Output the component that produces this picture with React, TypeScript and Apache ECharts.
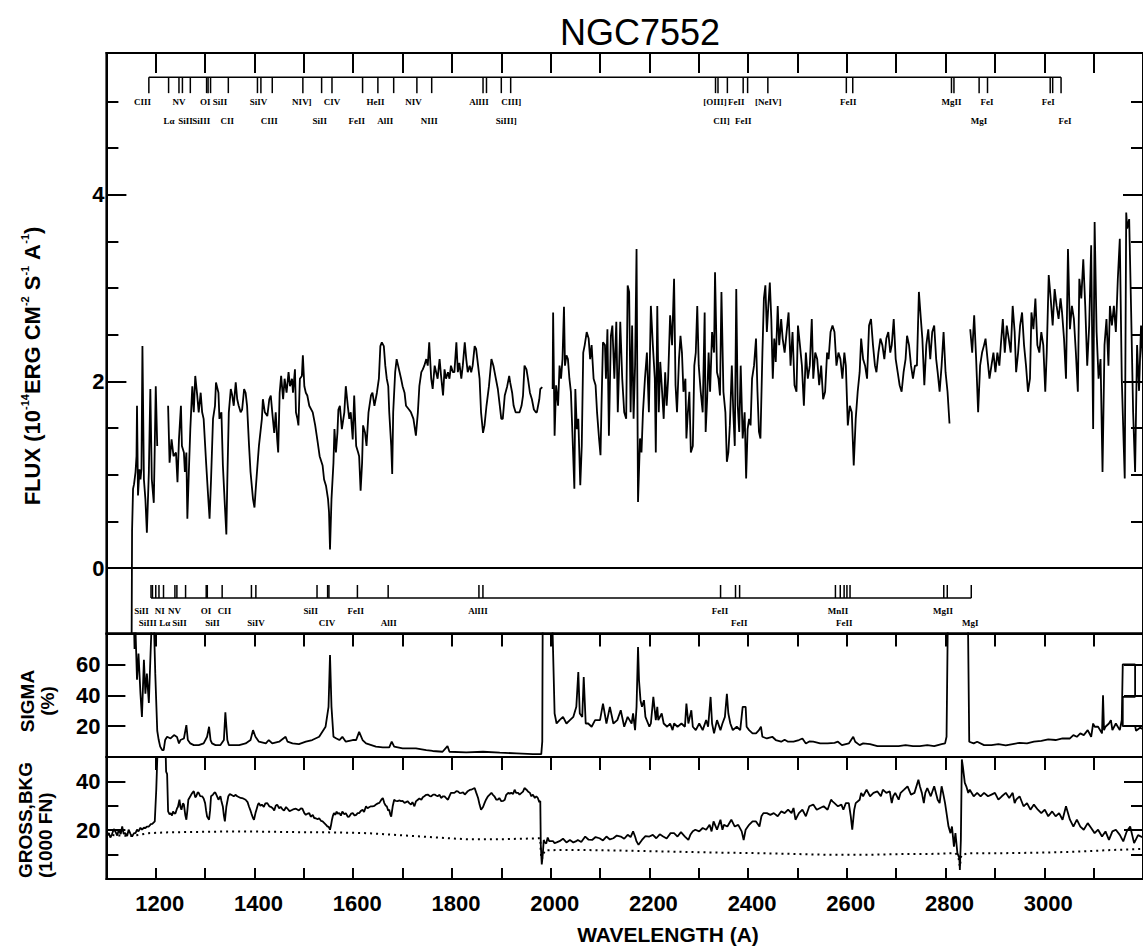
import React, { useEffect, useRef } from "react";
import * as echarts from "echarts";

// ---- wavelength range (Angstrom) ----
const WAVE_MIN = 1100;
const WAVE_MAX = 3200;
const waveLabels = [1200, 1400, 1600, 1800, 2000, 2200, 2400, 2600, 2800, 3000];

// ---- flux panel (1e-14 erg cm-2 s-1 A-1) ----
const FLUX_MIN = -0.7;
const FLUX_MAX = 5.52;
const fluxMajorTicks = [0, 2, 4];
const fluxMinorTicks = [0.5, 1, 1.5, 2.5, 3, 3.5, 4.5, 5];

// SWP camera, blue of Lyman alpha
const fluxShortA: [number, number][] = [
  [1151, -0.9], [1152, 0.4], [1154, 0.85], [1156, 0.9], [1159, 1.03], [1161, 1.2], [1162, 1.74], [1164, 0.78],
  [1167, 1.06], [1169, 0.95], [1171, 1.06], [1173, 2.38], [1176, 0.95], [1179, 0.74], [1182, 0.38], [1186, 1.03],
  [1189, 1.92], [1192, 0.95], [1196, 0.7], [1198, 1.31], [1200, 1.95], [1203, 1.31],
];

// SWP camera, red of Lyman alpha
const fluxShortB: [number, number][] = [
  [1225, 1.74], [1228, 1.13], [1232, 1.38], [1236, 1.2], [1241, 1.24], [1244, 0.92], [1247, 1.38], [1251, 1.74],
  [1253, 1.31], [1257, 1.24], [1259, 1.03], [1262, 1.24], [1264, 0.53], [1267, 1.03], [1270, 1.49], [1274, 1.95],
  [1277, 1.67], [1280, 2.06], [1284, 1.85], [1287, 1.67], [1291, 1.88], [1294, 1.67], [1297, 1.6], [1302, 1.13],
  [1306, 0.78], [1309, 0.53], [1312, 0.95], [1316, 1.6], [1320, 1.74], [1322, 1.99], [1327, 1.88], [1329, 1.6],
  [1333, 1.67], [1336, 1.1], [1340, 0.67], [1343, 0.36], [1345, 0.95], [1348, 1.67], [1352, 1.92], [1355, 1.85],
  [1358, 1.74], [1362, 1.99], [1365, 1.81], [1368, 1.74], [1372, 1.67], [1375, 1.7], [1379, 1.92], [1382, 1.88],
  [1385, 1.74], [1389, 1.31], [1392, 1.03], [1397, 0.74], [1400, 0.65], [1402, 0.81], [1406, 1.1], [1409, 1.31],
  [1415, 1.6], [1417, 1.81], [1421, 1.67], [1426, 1.63], [1430, 1.81], [1433, 1.85], [1436, 1.67], [1440, 1.45],
  [1443, 1.67], [1446, 1.38], [1448, 1.24], [1451, 1.88], [1454, 2.06], [1458, 1.81], [1461, 2.03], [1465, 1.88],
  [1469, 2.1], [1472, 1.95], [1476, 2.03], [1478, 1.88], [1482, 2.13], [1484, 1.67], [1487, 1.6], [1489, 1.53],
  [1492, 2.03], [1496, 2.06], [1498, 2.28], [1501, 1.95], [1504, 1.88], [1507, 1.85], [1511, 1.74], [1518, 1.67],
  [1523, 1.53], [1528, 1.35], [1532, 1.2], [1538, 1.1], [1541, 0.95], [1545, 0.88], [1549, 0.74], [1551, 0.6],
  [1553, 0.2], [1556, 0.74], [1560, 1.13], [1562, 1.49], [1565, 1.24], [1568, 1.45], [1570, 1.7], [1573, 1.74],
  [1577, 1.49], [1582, 1.67], [1585, 1.95], [1589, 1.74], [1592, 1.6], [1595, 1.67], [1599, 1.38], [1602, 1.85],
  [1606, 1.31], [1610, 1.24], [1612, 1.2], [1615, 0.83], [1618, 1.13], [1620, 1.53], [1624, 1.45], [1627, 1.31],
  [1631, 1.67], [1636, 1.85], [1639, 1.88], [1643, 1.74], [1648, 1.88], [1652, 2.03], [1655, 2.38], [1658, 2.42],
  [1662, 2.38], [1665, 2.17], [1668, 2.03], [1671, 1.95], [1673, 1.67], [1677, 1.31], [1679, 1.01], [1681, 1.67],
  [1685, 2.1], [1688, 2.24], [1691, 2.17], [1694, 2.1], [1697, 2.03], [1700, 1.95], [1704, 1.88], [1707, 1.74],
  [1713, 1.7], [1717, 1.67], [1722, 1.6], [1727, 1.42], [1731, 1.67], [1734, 1.95], [1738, 2.1], [1741, 2.13],
  [1744, 2.17], [1748, 2.24], [1751, 2.17], [1754, 2.42], [1758, 2.03], [1761, 1.92], [1765, 2.17], [1768, 2.1],
  [1771, 2.03], [1775, 2.24], [1778, 2.06], [1782, 1.85], [1785, 2.13], [1788, 2.03], [1792, 2.1], [1795, 2.03],
  [1798, 2.17], [1802, 2.1], [1805, 2.1], [1809, 2.42], [1812, 2.1], [1815, 2.2], [1819, 2.03], [1822, 2.17],
  [1826, 2.42], [1829, 2.24], [1832, 2.1], [1836, 2.17], [1839, 2.1], [1842, 2.17], [1846, 2.38], [1849, 2.35],
  [1853, 2.17], [1856, 2.03], [1859, 1.67], [1863, 1.45], [1866, 1.53], [1870, 1.74], [1875, 1.95], [1880, 2.24],
  [1884, 2.17], [1889, 2.03], [1893, 1.92], [1897, 1.74], [1900, 1.6], [1903, 1.6], [1907, 1.85], [1912, 1.95],
  [1916, 2.06], [1918, 1.99], [1922, 1.88], [1925, 1.74], [1929, 1.67], [1934, 1.67], [1937, 1.67], [1941, 1.74],
  [1944, 1.85], [1947, 2.17], [1951, 2.13], [1954, 2.03], [1958, 1.88], [1962, 1.81], [1966, 1.7], [1970, 1.67],
  [1972, 1.67], [1977, 1.81], [1979, 1.92], [1983, 1.94],
];

// LWR camera, blue of Mg II
const fluxLongA: [number, number][] = [
  [2004, 1.92], [2005, 2.74], [2008, 1.42], [2011, 1.96], [2015, 1.74], [2018, 2.17], [2021, 2.03], [2024, 2.24],
  [2027, 2.8], [2029, 2.17], [2032, 2.28], [2035, 2.24], [2038, 2.03], [2041, 1.89], [2044, 1.46], [2048, 0.85],
  [2050, 1.92], [2053, 1.49], [2056, 1.6], [2060, 0.89], [2063, 1.31], [2066, 2.31], [2069, 2.39], [2073, 2.53],
  [2077, 2.46], [2080, 2.24], [2083, 2.39], [2087, 2.03], [2091, 1.96], [2094, 1.67], [2098, 1.39], [2101, 1.21],
  [2103, 1.74], [2106, 2.42], [2110, 2.39], [2112, 2.03], [2115, 2.56], [2118, 1.42], [2122, 2.49], [2125, 2.6],
  [2129, 2.03], [2133, 2.64], [2136, 1.67], [2139, 2.21], [2141, 2.64], [2145, 2.03], [2149, 1.67], [2153, 1.6],
  [2156, 3.03], [2159, 2.96], [2162, 1.67], [2165, 2.6], [2168, 1.6], [2171, 2.17], [2174, 3.42], [2177, 0.71],
  [2181, 1.39], [2184, 1.24], [2187, 1.67], [2191, 2.03], [2195, 2.31], [2199, 1.67], [2203, 2.81], [2207, 2.39],
  [2211, 2.03], [2213, 1.24], [2216, 2.81], [2219, 1.67], [2222, 2.21], [2225, 1.96], [2229, 1.6], [2232, 2.1],
  [2235, 1.74], [2238, 2.03], [2242, 2.71], [2246, 2.39], [2250, 3.1], [2253, 1.96], [2256, 1.67], [2260, 2.24],
  [2263, 2.49], [2266, 2.31], [2269, 1.89], [2273, 2.03], [2275, 1.39], [2278, 1.67], [2281, 1.89], [2284, 1.24],
  [2288, 1.31], [2291, 2.17], [2294, 2.31], [2297, 2.81], [2300, 2.17], [2304, 1.89], [2308, 1.67], [2312, 2.74],
  [2314, 1.46], [2317, 1.81], [2320, 2.31], [2323, 1.89], [2327, 2.53], [2331, 2.31], [2333, 3.17], [2337, 2.1],
  [2340, 2.03], [2343, 1.85], [2346, 2.96], [2350, 1.89], [2354, 1.67], [2357, 1.14], [2360, 1.24], [2363, 1.53],
  [2367, 2.17], [2370, 1.67], [2373, 1.31], [2376, 2.99], [2379, 1.74], [2382, 1.46], [2385, 2.17], [2389, 1.39],
  [2393, 1.67], [2396, 0.96], [2399, 1.49], [2402, 1.6], [2405, 1.53], [2408, 2.03], [2412, 2.17], [2416, 2.46],
  [2419, 1.89], [2422, 1.46], [2425, 1.39], [2429, 2.31], [2432, 2.89], [2435, 3.03], [2438, 2.53], [2441, 2.81],
  [2444, 3.06], [2447, 2.67], [2450, 2.03], [2453, 2.46], [2456, 2.21], [2460, 2.81], [2463, 2.39], [2467, 2.67],
  [2470, 2.46], [2474, 2.31], [2478, 2.53], [2482, 2.74], [2486, 2.17], [2490, 2.53], [2494, 1.96], [2498, 1.89],
  [2501, 2.6], [2505, 2.39], [2509, 2.17], [2513, 1.74], [2517, 2.31], [2521, 2.03], [2525, 2.17], [2529, 2.67],
  [2532, 2.03], [2536, 2.31], [2540, 2.24], [2544, 1.96], [2548, 2.17], [2552, 1.81], [2556, 1.89], [2560, 2.31],
  [2563, 2.24], [2567, 2.53], [2571, 2.6], [2575, 2.53], [2579, 2.17], [2583, 2.31], [2587, 2.24], [2591, 2.03],
  [2595, 2.31], [2598, 2.17], [2602, 1.53], [2606, 1.74], [2610, 1.67], [2614, 1.1], [2618, 1.6], [2622, 1.89],
  [2626, 2.1], [2629, 2.46], [2633, 2.24], [2637, 2.17], [2641, 2.03], [2645, 2.6], [2649, 2.67], [2653, 2.39],
  [2657, 2.17], [2660, 2.1], [2664, 2.31], [2668, 2.46], [2672, 2.39], [2676, 2.24], [2680, 2.46], [2684, 2.53],
  [2688, 2.31], [2691, 2.39], [2695, 2.67], [2699, 2.24], [2703, 2.1], [2707, 1.96], [2711, 1.89], [2715, 2.1],
  [2719, 2.24], [2722, 2.49], [2726, 2.39], [2730, 2.17], [2734, 2.03], [2738, 2.17], [2742, 2.17], [2746, 2.96],
  [2750, 2.67], [2753, 2.46], [2757, 1.96], [2761, 2.39], [2765, 2.56], [2769, 2.24], [2773, 2.53], [2777, 2.6],
  [2781, 2.24], [2784, 2.1], [2788, 1.89], [2792, 2.17], [2796, 2.53], [2800, 2.1], [2804, 1.89], [2808, 1.55],
];

// LWR camera, red of Mg II
const fluxLongB: [number, number][] = [
  [2850, 2.56], [2854, 2.31], [2858, 2.71], [2862, 2.24], [2866, 1.67], [2870, 2.17], [2874, 2.31], [2878, 2.39],
  [2881, 2.46], [2885, 2.24], [2889, 2.03], [2893, 2.17], [2897, 2.31], [2901, 2.1], [2905, 2.31], [2909, 2.17],
  [2912, 2.39], [2916, 2.67], [2920, 2.31], [2924, 2.6], [2928, 2.46], [2932, 2.31], [2936, 2.81], [2940, 2.53],
  [2943, 2.1], [2947, 2.31], [2951, 2.6], [2955, 2.74], [2959, 2.39], [2963, 2.17], [2967, 1.89], [2971, 2.03],
  [2974, 2.74], [2978, 2.56], [2982, 2.89], [2986, 2.39], [2990, 2.31], [2994, 2.53], [2998, 2.39], [3002, 1.89],
  [3005, 2.31], [3009, 3.14], [3013, 2.89], [3017, 2.6], [3021, 2.99], [3025, 2.81], [3029, 2.67], [3033, 2.89],
  [3036, 2.74], [3040, 2.46], [3044, 2.03], [3048, 3.42], [3052, 2.56], [3056, 2.81], [3060, 2.67], [3064, 2.31],
  [3068, 1.89], [3071, 3.1], [3075, 2.89], [3079, 3.31], [3083, 2.81], [3087, 2.17], [3091, 2.6], [3095, 3.46],
  [3099, 1.49], [3102, 3.71], [3106, 2.53], [3110, 2.03], [3114, 2.24], [3118, 1.03], [3122, 2.39], [3126, 2.67],
  [3130, 2.17], [3133, 2.81], [3137, 2.6], [3141, 2.81], [3145, 2.53], [3149, 3.1], [3153, 3.53], [3157, 2.03],
  [3161, 1.31], [3163, 0.96], [3166, 3.81], [3168, 3.64], [3172, 3.74], [3176, 2.74], [3180, 1.67], [3184, 1.03],
  [3188, 2.39], [3192, 1.9], [3196, 2.6], [3200, 2.2],
];

// ---- sigma panel (%) ----
const SIGMA_MAX = 80;
const sigmaTicks = [20, 40, 60];

const sigmaShort: [number, number][] = [
  [1155, 100], [1157, 70], [1159, 82], [1162, 50], [1165, 67], [1169, 41], [1172, 26], [1176, 63], [1179, 41],
  [1182, 54], [1186, 35], [1189, 63], [1192, 90], [1196, 90], [1199, 54], [1203, 17], [1206, 11], [1209, 6.7],
  [1213, 4.5], [1216, 4.5], [1219, 11], [1223, 13.1], [1230, 12], [1237, 14.2], [1243, 13], [1247, 8.8],
  [1250, 11], [1257, 12], [1262, 20.6], [1265, 11], [1270, 8.8], [1277, 7.7], [1287, 7.7], [1297, 8.8],
  [1304, 13.1], [1308, 19.6], [1311, 11], [1314, 8.8], [1321, 7.7], [1331, 7.7], [1338, 11], [1341, 29],
  [1345, 11], [1348, 7.7], [1369, 7.7], [1382, 8.8], [1392, 11], [1397, 17.4], [1402, 13.1], [1409, 9.9],
  [1423, 8.8], [1429, 11], [1436, 8.8], [1450, 9.9], [1463, 13.1], [1467, 9.9], [1477, 8.8], [1490, 8.4],
  [1504, 9.9], [1517, 11], [1531, 13.1], [1544, 19.6], [1550, 32.5], [1553, 66], [1556, 32.5], [1560, 13.1],
  [1566, 12], [1572, 11], [1578, 13.1], [1585, 9.9], [1599, 11], [1606, 11], [1612, 16.3], [1619, 11],
  [1626, 8.8], [1646, 6.7], [1660, 6.2], [1673, 6.2], [1678, 9.9], [1683, 6.7], [1700, 5.6], [1727, 5.6],
  [1748, 4.5], [1761, 3.9], [1781, 3.4], [1791, 7.1], [1795, 3.4], [1829, 3], [1863, 3.4], [1897, 2.8],
  [1931, 2.4], [1964, 1.9], [1981, 1.9], [1983, 10], [1984, 100],
];

const sigmaLongA: [number, number][] = [
  [2002, 100], [2004, 80], [2008, 28.2], [2012, 21.7], [2018, 23.9], [2025, 26], [2032, 21.7], [2039, 23.9],
  [2046, 26], [2052, 32.5], [2056, 55], [2059, 28.2], [2064, 26], [2067, 51.8], [2071, 21.7], [2076, 21.7],
  [2083, 19.6], [2090, 23.9], [2096, 23.9], [2100, 23.9], [2106, 34.6], [2113, 21.7], [2120, 32.5], [2127, 21.7],
  [2135, 23.9], [2142, 30.3], [2149, 19.6], [2156, 26], [2164, 21.7], [2167, 28.2], [2171, 17.4], [2174, 32.5],
  [2177, 71.2], [2179, 49.7], [2182, 36.8], [2185, 32.5], [2189, 36.8], [2192, 26], [2200, 19.6], [2203, 21.7],
  [2208, 38.9], [2213, 23.9], [2216, 32.5], [2218, 23.9], [2225, 28.2], [2229, 21.7], [2236, 19.6], [2242, 21.7],
  [2247, 17.4], [2250, 21.7], [2257, 19.6], [2265, 21.7], [2272, 19.6], [2275, 34.6], [2279, 21.7], [2285, 30.3],
  [2288, 19.6], [2294, 17.4], [2301, 21.7], [2308, 17.4], [2315, 23.9], [2319, 19.6], [2324, 38.9], [2327, 21.7],
  [2331, 15.3], [2337, 23.9], [2344, 17.4], [2348, 21.7], [2353, 26], [2357, 41], [2360, 28.2], [2364, 21.7],
  [2369, 17.4], [2377, 19.6], [2384, 17.4], [2389, 32.5], [2395, 32.5], [2397, 19.6], [2402, 17.4], [2409, 15.3],
  [2416, 15.3], [2422, 17.4], [2426, 19.6], [2429, 13.1], [2438, 12], [2449, 13.1], [2456, 11], [2467, 9.9],
  [2474, 11.2], [2481, 9.9], [2492, 9.9], [2503, 11], [2510, 12], [2517, 8.8], [2524, 10.1], [2532, 9.9],
  [2546, 8.8], [2561, 8.8], [2575, 9.2], [2582, 9.9], [2590, 7.7], [2604, 8.8], [2613, 13.1], [2617, 9.9],
  [2626, 7.7], [2633, 8.8], [2647, 8.4], [2662, 7.1], [2676, 7.1], [2691, 7.1], [2705, 7.1], [2719, 7.7],
  [2734, 7.1], [2748, 7.1], [2763, 7.7], [2777, 7.1], [2792, 8.4], [2799, 8.8], [2802, 13.1], [2805, 100],
];

const sigmaLongB: [number, number][] = [
  [2845, 100], [2848, 9.9], [2857, 8.8], [2864, 9.9], [2878, 7.7], [2893, 7.7], [2907, 8.4], [2922, 7.5],
  [2936, 8.4], [2950, 9.2], [2965, 8.8], [2979, 9.9], [2994, 10.5], [3008, 11.4], [3023, 11], [3037, 12],
  [3052, 12], [3059, 14.2], [3066, 13.1], [3073, 15.3], [3080, 14.2], [3088, 17.4], [3095, 13.1], [3099, 21.7],
  [3102, 19.6], [3109, 19.6], [3117, 15.3], [3119, 40], [3121, 17.4], [3124, 19.6], [3131, 21.7], [3135, 23.9],
  [3138, 17.4], [3145, 21.7], [3153, 17.4], [3157, 24], [3159, 60], [3184, 60], [3184, 39], [3159, 39],
  [3159, 20], [3184, 20], [3186, 17], [3194, 19], [3200, 18],
];

// ---- gross and background counts (1000 FN) ----
const GROSS_MAX = 50;
const grossMajorTicks = [20, 40];
const grossMinorTicks = [10, 30];

const grossShort: [number, number][] = [
  [1100, 17.4], [1105, 18.8], [1108, 17.0], [1111, 18.1], [1115, 20.5], [1118, 19.5], [1122, 17.8], [1125, 20.2],
  [1129, 18.4], [1132, 21.5], [1135, 18.5], [1138, 18.8], [1142, 17.6], [1145, 20.2], [1149, 18.4], [1152, 17.4],
  [1156, 18.8], [1159, 18.8], [1162, 20.2], [1165, 19.5], [1169, 21.0], [1172, 20.2], [1176, 21.0], [1179, 20.9],
  [1182, 21.5], [1186, 21.5], [1190, 22.5], [1193, 22.6], [1198, 23.6], [1201, 36.6], [1203, 49], [1205, 60],
  [1219, 60], [1221, 44], [1223, 43], [1225, 27.7], [1228, 26.5], [1230, 27.0], [1233, 26.0], [1235, 27.7],
  [1238, 26.8], [1240, 27.0], [1243, 28.9], [1245, 29.6], [1248, 32.5], [1250, 29.5], [1252, 28.4], [1255, 31.0],
  [1257, 30.5], [1260, 26.0], [1262, 24.3], [1264, 28.0], [1266, 32.5], [1270, 33.9], [1273, 35.0], [1277, 36.0],
  [1280, 33.5], [1282, 33.9], [1285, 35.5], [1287, 35.3], [1290, 34.0], [1294, 33.9], [1297, 33.0], [1300, 31.1],
  [1302, 28.0], [1304, 25.6], [1308, 24.3], [1310, 28.0], [1312, 33.9], [1316, 34.6], [1319, 35.5], [1321, 35.3],
  [1324, 34.0], [1327, 32.5], [1331, 33.9], [1333, 32.0], [1336, 29.6], [1338, 26.0], [1340, 23.6], [1343, 29.6],
  [1347, 33.9], [1350, 34.8], [1352, 34.6], [1358, 33.9], [1362, 34.5], [1365, 33.9], [1369, 33.5], [1372, 33.2],
  [1377, 33.0], [1382, 32.5], [1386, 31.5], [1389, 29.6], [1392, 28.0], [1394, 26.7], [1397, 25.0], [1399, 24.3],
  [1402, 27.0], [1404, 28.4], [1407, 30.5], [1409, 31.1], [1412, 30.0], [1415, 30.5], [1419, 29.6], [1422, 31.0],
  [1426, 31.1], [1430, 29.8], [1433, 29.6], [1437, 29.0], [1440, 28.1], [1443, 30.0], [1446, 30.5], [1450, 29.0],
  [1453, 29.6], [1457, 28.5], [1460, 28.1], [1464, 29.5], [1467, 28.8], [1471, 27.8], [1474, 28.1], [1478, 28.5],
  [1484, 28.8], [1490, 28.1], [1494, 28.9], [1497, 28.8], [1501, 27.0], [1504, 26.3], [1508, 26.8], [1511, 27.0],
  [1514, 25.5], [1518, 26.3], [1521, 25.0], [1524, 24.9], [1528, 24.5], [1531, 24.9], [1535, 23.8], [1538, 23.6],
  [1542, 22.8], [1545, 22.2], [1548, 21.5], [1550, 21.5], [1553, 20.2], [1555, 22.0], [1557, 24.3], [1559, 26.0],
  [1561, 27.0], [1564, 26.3], [1566, 27.6], [1569, 26.8], [1572, 27.0], [1575, 26.0], [1578, 27.6], [1582, 26.5],
  [1585, 27.0], [1589, 25.5], [1592, 25.6], [1596, 26.8], [1599, 27.0], [1603, 26.0], [1606, 26.3], [1609, 27.0],
  [1612, 27.0], [1616, 28.0], [1619, 28.4], [1622, 27.5], [1626, 29.8], [1629, 29.0], [1633, 29.5], [1636, 29.8],
  [1639, 29.8], [1643, 30.0], [1646, 30.5], [1650, 31.0], [1653, 31.2], [1657, 32.5], [1660, 33.2], [1663, 31.1],
  [1666, 30.0], [1668, 29.8], [1671, 28.0], [1673, 28.4], [1675, 26.5], [1677, 25.6], [1680, 29.8], [1683, 32.5],
  [1686, 32.0], [1690, 31.9], [1693, 32.2], [1697, 31.9], [1700, 32.0], [1704, 31.2], [1707, 31.5], [1710, 31.9],
  [1714, 31.0], [1717, 30.5], [1720, 31.5], [1724, 29.8], [1727, 31.8], [1731, 32.5], [1734, 33.0], [1738, 32.5],
  [1741, 33.5], [1744, 33.9], [1748, 34.5], [1751, 34.6], [1755, 34.0], [1758, 33.9], [1762, 34.6], [1765, 34.6],
  [1768, 34.2], [1771, 33.9], [1775, 34.5], [1778, 33.2], [1782, 33.9], [1785, 33.9], [1789, 33.0], [1792, 32.5],
  [1795, 34.0], [1798, 35.3], [1802, 35.3], [1805, 35.3], [1809, 36.0], [1812, 35.9], [1816, 35.2], [1819, 35.3],
  [1823, 35.5], [1826, 34.6], [1830, 35.5], [1832, 36.0], [1836, 36.5], [1839, 36.6], [1843, 37.0], [1846, 37.3],
  [1849, 35.5], [1853, 33.2], [1856, 30.5], [1859, 28.4], [1863, 29.5], [1866, 31.1], [1869, 32.5], [1873, 33.9],
  [1876, 34.5], [1880, 35.3], [1883, 34.5], [1886, 33.9], [1890, 32.5], [1893, 32.5], [1896, 33.2], [1900, 31.9],
  [1904, 32.0], [1907, 32.5], [1910, 34.5], [1914, 35.3], [1917, 35.0], [1920, 35.3], [1924, 34.9], [1927, 36.6],
  [1930, 35.3], [1934, 35.3], [1937, 34.6], [1941, 35.3], [1944, 35.8], [1947, 37.3], [1951, 36.6], [1954, 35.9],
  [1958, 35.3], [1961, 33.9], [1964, 34.6], [1968, 33.2], [1971, 33.9], [1974, 33.2], [1977, 31.5], [1979, 32.0],
];

const grossLong: [number, number][] = [
  [1980, 14], [1982, 6], [1984, 10], [1986, 16], [1988, 15.0], [1991, 14.5], [1994, 17.0], [1997, 15.5],
  [2001, 15.5], [2005, 15.5], [2008, 14.7], [2012, 15.0], [2018, 15.5], [2025, 16.5], [2032, 15.0], [2039, 16.0],
  [2046, 15.0], [2052, 15.5], [2055, 16.0], [2062, 15.2], [2070, 17.4], [2077, 16.1], [2084, 16.0], [2091, 17.2],
  [2099, 16.7], [2106, 15.8], [2113, 17.4], [2120, 16.2], [2127, 16.7], [2134, 17.8], [2142, 17.4], [2149, 16.5],
  [2156, 18.1], [2162, 17.2], [2167, 19.5], [2171, 17.4], [2174, 15.4], [2178, 14.0], [2185, 16.0], [2192, 17.6],
  [2200, 17.4], [2207, 18.1], [2214, 16.7], [2221, 18.3], [2228, 17.4], [2235, 16.6], [2243, 18.8], [2250, 18.8],
  [2257, 17.4], [2264, 19.2], [2272, 17.4], [2279, 16.0], [2283, 18.1], [2288, 19.6], [2293, 20.2], [2301, 19.5],
  [2308, 20.9], [2315, 20.2], [2322, 22.2], [2326, 19.5], [2330, 23.6], [2337, 20.2], [2344, 24.3], [2348, 20.2],
  [2351, 22.2], [2358, 21.5], [2366, 24.3], [2373, 21.5], [2380, 22.2], [2387, 19.5], [2391, 16.0], [2395, 20.2],
  [2402, 22.2], [2409, 23.6], [2416, 23.6], [2423, 21.5], [2427, 25.7], [2431, 27.0], [2438, 27.0], [2445, 26.3],
  [2452, 27.0], [2460, 25.7], [2467, 27.7], [2474, 27.0], [2481, 28.4], [2488, 27.0], [2492, 29.1], [2496, 24.3],
  [2503, 27.0], [2510, 28.4], [2517, 25.7], [2524, 29.8], [2532, 30.5], [2539, 28.4], [2546, 29.1], [2553, 29.8],
  [2561, 28.4], [2568, 32.5], [2571, 31.8], [2575, 31.1], [2582, 29.8], [2589, 30.5], [2593, 28.4], [2598, 31.1],
  [2604, 31.1], [2608, 25.7], [2611, 20.2], [2615, 28.4], [2618, 31.1], [2626, 32.5], [2629, 35.3], [2633, 33.9],
  [2640, 36.6], [2647, 33.9], [2654, 35.3], [2662, 35.9], [2669, 33.9], [2673, 36.6], [2680, 35.3], [2687, 35.9],
  [2691, 31.1], [2694, 33.9], [2698, 35.3], [2705, 32.5], [2709, 35.3], [2716, 36.6], [2723, 38.0], [2730, 34.6],
  [2737, 35.3], [2745, 40.7], [2748, 38.0], [2752, 35.3], [2756, 31.1], [2759, 35.3], [2763, 37.3], [2770, 33.9],
  [2777, 38.0], [2784, 32.5], [2788, 31.1], [2792, 38.0], [2795, 35.3], [2799, 31.1], [2802, 27.0], [2806, 21.5],
  [2810, 18.8], [2813, 21.5], [2817, 13.3], [2820, 18.8], [2824, 10.6], [2828, 8.5], [2829, 3.7], [2831, 16.0],
  [2833, 49.0], [2835, 46.2], [2839, 39.4], [2842, 38.0], [2846, 35.3], [2849, 36.6], [2857, 33.9], [2864, 35.3],
  [2871, 33.9], [2878, 35.3], [2886, 33.9], [2893, 34.6], [2900, 35.3], [2907, 32.5], [2914, 33.9], [2922, 35.3],
  [2929, 33.2], [2936, 35.3], [2940, 31.1], [2943, 32.5], [2950, 33.9], [2958, 29.8], [2965, 31.1], [2972, 28.4],
  [2979, 30.5], [2987, 28.4], [2994, 27.0], [3001, 28.4], [3008, 25.7], [3016, 27.7], [3023, 25.7], [3030, 27.0],
  [3037, 24.3], [3044, 29.8], [3052, 24.3], [3059, 21.5], [3066, 24.3], [3073, 21.5], [3080, 20.2], [3088, 22.9],
  [3095, 20.9], [3102, 18.8], [3109, 20.2], [3117, 17.4], [3124, 19.5], [3131, 16.0], [3138, 19.5], [3145, 20.2],
  [3153, 18.1], [3160, 15.4], [3167, 19.5], [3174, 21.5], [3182, 14.7], [3190, 18], [3200, 17],
];

const bkgShort: [number, number][] = [
  [1100, 18.1], [1152, 17.6], [1186, 18.8], [1220, 19.1], [1287, 19.3], [1355, 19.5], [1422, 19.4], [1490, 19.2],
  [1558, 19.1], [1626, 18.8], [1693, 18.0], [1761, 17.1], [1829, 16.3], [1897, 16.3], [1964, 16.6], [1979, 16.7],
];

const bkgLong: [number, number][] = [
  [1980, 10.6], [1982, 8], [1984, 9.2], [1988, 11.7], [2018, 11.9], [2055, 11.9], [2127, 11.7], [2200, 11.4],
  [2272, 11.1], [2344, 10.8], [2416, 10.6], [2488, 10.3], [2561, 9.9], [2633, 9.9], [2705, 10.2], [2777, 10.3],
  [2820, 10.6], [2826, 9.2], [2829, 5], [2832, 9.9], [2849, 10.6], [2922, 10.6], [2994, 10.8], [3066, 11.2],
  [3138, 11.9], [3182, 12.2], [3200, 12.3],
];

// ---- line identifications ----
// lines of NGC 7552 itself, at the galaxy's observed wavelengths
const galaxyLineWaves = [
  1186, 1226, 1247, 1254, 1270, 1303, 1306, 1311, 1347, 1406, 1413, 1436, 1498, 1536, 1557, 1619, 1650, 1682,
  1729, 1759, 1863, 1870, 1900, 1919, 2334, 2339, 2358, 2390, 2399, 2440, 2599, 2612, 2812, 2817, 2868, 2885,
  3012, 3017, 3034,
];
const galaxyLineLabels: [string, number, number][] = [
  ["CIII", 1173, 0], ["NV", 1247, 0], ["OI SiII", 1317, 0], ["SiIV", 1408, 0], ["NIV]", 1496, 0],
  ["CIV", 1557, 0], ["HeII", 1645, 0], ["NIV", 1722, 0], ["AlIII", 1855, 0], ["CIII]", 1920, 0],
  ["[OIII]", 2333, 0], ["FeII", 2376, 0], ["[NeIV]", 2441, 0], ["FeII", 2603, 0], ["MgII", 2812, 0],
  ["FeI", 2884, 0], ["FeI", 3008, 0],
  ["Lα", 1227, 1], ["SiII", 1260, 1], ["SiIII", 1292, 1], ["CII", 1345, 1], ["CIII", 1430, 1],
  ["SiII", 1532, 1], ["FeII", 1607, 1], ["AlII", 1665, 1], ["NIII", 1754, 1], ["SiIII]", 1910, 1],
  ["CII]", 2346, 1], ["FeII", 2390, 1], ["MgI", 2868, 1], ["FeI", 3042, 1],
];

// interstellar lines of our own Galaxy, at rest wavelengths
const galacticLineWaves = [
  1190.4, 1193.3, 1200.0, 1206.5, 1215.7, 1238.8, 1242.8, 1260.4, 1302.2, 1304.4, 1334.5, 1393.8, 1402.8,
  1526.7, 1548.2, 1550.8, 1608.5, 1670.8, 1854.7, 1862.8, 2344.2, 2374.5, 2382.8, 2576.9, 2586.7, 2594.5,
  2600.2, 2606.5, 2796.4, 2803.5, 2852.1,
];
const galacticLineLabels: [string, number, number][] = [
  ["SiII", 1171, 0], ["NI", 1208, 0], ["NV", 1238, 0], ["OI", 1302, 0], ["CII", 1339, 0], ["SiII", 1514, 0],
  ["FeII", 1605, 0], ["AlIII", 1853, 0], ["FeII", 2343, 0], ["MnII", 2582, 0], ["MgII", 2795, 0],
  ["SiIII", 1184, 1], ["Lα", 1218, 1], ["SiII", 1248, 1], ["SiII", 1315, 1], ["SiIV", 1403, 1],
  ["CIV", 1547, 1], ["AlII", 1672, 1], ["FeII", 2382, 1], ["FeII", 2595, 1], ["MgI", 2850, 1],
];

// ---- layout and style ----
const SANS = '"Liberation Sans", Arial, Helvetica, sans-serif';
const SERIF = '"Liberation Serif", "Times New Roman", serif';
const INK = "#000";

// heights of the identification bars, in flux units
const GALAXY_BAR = 5.26;
const GALAXY_TIP = 5.09;
const GALAXY_ROWS = [4.99, 4.79];
const GALACTIC_BAR = -0.32;
const GALACTIC_TIP = -0.18;
const GALACTIC_ROWS = [-0.46, -0.59];

const PLOT_LEFT = 106.4;
const PLOT_WIDTH = 1041.6;

function frameGrid(top: number, height: number) {
  return {
    left: PLOT_LEFT, width: PLOT_WIDTH, top, height,
    show: true, borderColor: INK, borderWidth: 2, backgroundColor: "transparent",
  };
}

const plainNumber = (v: number) => String(v);

function waveAxis(gridIndex: number, position: string, tickLen: number, withLabels: boolean) {
  return {
    type: "value", gridIndex, position, min: WAVE_MIN, max: WAVE_MAX, interval: 100,
    axisLine: { show: true, onZero: false, lineStyle: { color: INK, width: 2 } },
    axisTick: { show: true, inside: true, length: tickLen, lineStyle: { color: INK, width: 2 } },
    axisLabel: withLabels
      ? {
          show: true, customValues: waveLabels, formatter: plainNumber, margin: 13, padding: [0, 0, 0, 8],
          color: INK, fontFamily: SANS, fontWeight: "bold", fontSize: 22,
        }
      : { show: false },
    splitLine: { show: false },
  };
}

function valueAxis(
  gridIndex: number, position: string, min: number, max: number,
  ticks: number[], tickLen: number, withLabels: boolean, labelMargin = 6,
) {
  return {
    type: "value", gridIndex, position, min, max,
    axisLine: { show: true, onZero: false, lineStyle: { color: INK, width: 2 } },
    axisTick: { show: true, inside: true, length: tickLen, customValues: ticks, lineStyle: { color: INK, width: 2 } },
    axisLabel: withLabels
      ? {
          show: true, customValues: ticks, formatter: plainNumber, margin: labelMargin,
          color: INK, fontFamily: SANS, fontWeight: "bold", fontSize: 22,
        }
      : { show: false },
    splitLine: { show: false },
  };
}

function trace(name: string, data: [number, number][], xAxisIndex: number, yAxisIndex: number, dotted = false, extra: any = {}) {
  return {
    name, type: "line", data, xAxisIndex, yAxisIndex,
    symbol: "none", showSymbol: false, silent: true, clip: true,
    lineStyle: dotted ? { color: INK, width: 2, type: [2, 4] } : { color: INK, width: 1.8 },
    ...extra,
  };
}

function idTicks(name: string, waves: number[], bar: number, tip: number) {
  return {
    name, type: "custom", xAxisIndex: 0, yAxisIndex: 0, silent: true,
    data: waves.map((w) => [w, bar]),
    encode: { x: 0, y: 1 },
    renderItem: (_params: any, api: any) => {
      const a = api.coord([api.value(0), bar]);
      const b = api.coord([api.value(0), tip]);
      return {
        type: "line",
        shape: { x1: a[0], y1: a[1], x2: b[0], y2: b[1] },
        style: { stroke: INK, lineWidth: 1.5 },
      };
    },
  };
}

function idBar(name: string, waves: number[], bar: number) {
  return trace(name, [[waves[0], bar], [waves[waves.length - 1], bar]], 0, 0, false, { lineStyle: { color: INK, width: 1.5 } });
}

function idLabels(name: string, labels: [string, number, number][], rows: number[]) {
  return {
    name, type: "custom", xAxisIndex: 0, yAxisIndex: 0, silent: true,
    data: labels.map((l) => [l[1], rows[l[2]]]),
    encode: { x: 0, y: 1 },
    renderItem: (params: any, api: any) => {
      const p = api.coord([api.value(0), api.value(1)]);
      return {
        type: "text",
        x: p[0], y: p[1],
        style: {
          text: labels[params.dataIndex][0],
          font: `bold 9px ${SERIF}`,
          fill: INK,
          align: "center", verticalAlign: "middle",
          textAlign: "center", textVerticalAlign: "middle",
        },
      };
    },
  };
}

function buildOption() {
  return {
    animation: false,
    backgroundColor: "#fff",
    grid: [frameGrid(53, 580.5), frameGrid(633.5, 123.5), frameGrid(757, 122)],
    xAxis: [
      waveAxis(0, "top", 20, false),
      waveAxis(1, "top", 13, false),
      waveAxis(2, "top", 13, false),
      waveAxis(2, "bottom", 11, true),
    ],
    yAxis: [
      valueAxis(0, "left", FLUX_MIN, FLUX_MAX, fluxMajorTicks, 20, true, 2),
      valueAxis(0, "left", FLUX_MIN, FLUX_MAX, fluxMinorTicks, 12, false),
      valueAxis(0, "right", FLUX_MIN, FLUX_MAX, fluxMajorTicks, 20, false),
      valueAxis(0, "right", FLUX_MIN, FLUX_MAX, fluxMinorTicks, 12, false),
      valueAxis(1, "left", 0, SIGMA_MAX, sigmaTicks, 19, true),
      valueAxis(1, "right", 0, SIGMA_MAX, sigmaTicks, 19, false),
      valueAxis(2, "left", 0, GROSS_MAX, grossMajorTicks, 19, true),
      valueAxis(2, "left", 0, GROSS_MAX, grossMinorTicks, 12, false),
      valueAxis(2, "right", 0, GROSS_MAX, grossMajorTicks, 19, false),
      valueAxis(2, "right", 0, GROSS_MAX, grossMinorTicks, 12, false),
    ],
    series: [
      trace("flux SWP a", fluxShortA, 0, 0),
      trace("flux SWP b", fluxShortB, 0, 0, false, {
        markLine: {
          silent: true, symbol: ["none", "none"], label: { show: false },
          lineStyle: { color: INK, width: 2, type: "solid" },
          data: [{ yAxis: 0 }],
        },
      }),
      trace("flux LWR a", fluxLongA, 0, 0),
      trace("flux LWR b", fluxLongB, 0, 0),
      idBar("galaxy bar", galaxyLineWaves, GALAXY_BAR),
      idTicks("galaxy lines", galaxyLineWaves, GALAXY_BAR, GALAXY_TIP),
      idLabels("galaxy labels", galaxyLineLabels, GALAXY_ROWS),
      idBar("galactic bar", galacticLineWaves, GALACTIC_BAR),
      idTicks("galactic lines", galacticLineWaves, GALACTIC_BAR, GALACTIC_TIP),
      idLabels("galactic labels", galacticLineLabels, GALACTIC_ROWS),
      trace("sigma SWP", sigmaShort, 1, 4),
      trace("sigma LWR a", sigmaLongA, 1, 4),
      trace("sigma LWR b", sigmaLongB, 1, 4),
      // the two cameras' count traces are drawn as one continuous line each
      trace("gross", [...grossShort, ...grossLong], 3, 6),
      trace("bkg", [...bkgShort, ...bkgLong], 3, 6, true),
    ],
    graphic: [
      {
        type: "text", x: 640, y: 32,
        style: { text: "NGC7552", font: `36px ${SANS}`, fill: INK, align: "center", verticalAlign: "middle", textAlign: "center", textVerticalAlign: "middle" },
      },
      {
        type: "text", x: 31, y: 366, rotation: Math.PI / 2,
        style: {
          text: "{n|FLUX (10}{s|-14}{n|ERG CM}{s|-2}{n| S}{s|-1}{n| A}{s|-1}{n|)}",
          fill: INK, align: "center", verticalAlign: "middle", textAlign: "center", textVerticalAlign: "middle",
          rich: {
            n: { fontFamily: SANS, fontWeight: "bold", fontSize: 22, lineHeight: 24, verticalAlign: "bottom" },
            s: { fontFamily: SANS, fontWeight: "bold", fontSize: 11, lineHeight: 24, verticalAlign: "top" },
          },
        },
      },
      {
        type: "text", x: 37, y: 701, rotation: Math.PI / 2,
        style: { text: "SIGMA\n(%)", font: `bold 19px ${SANS}`, lineHeight: 20, fill: INK, align: "center", verticalAlign: "middle", textAlign: "center", textVerticalAlign: "middle" },
      },
      {
        // both lines start at the panel's lower edge
        type: "text", x: 35, y: 878, rotation: Math.PI / 2,
        style: { text: "GROSS,BKG\n(1000 FN)", font: `bold 19px ${SANS}`, lineHeight: 20, fill: INK, align: "left", verticalAlign: "middle", textAlign: "left", textVerticalAlign: "middle" },
      },
      {
        type: "text", x: 668, y: 934,
        style: { text: "WAVELENGTH (A)", font: `bold 21px ${SANS}`, fill: INK, align: "center", verticalAlign: "middle", textAlign: "center", textVerticalAlign: "middle" },
      },
    ],
  };
}

export default function App() {
  const ref = useRef<HTMLDivElement>(null);
  useEffect(() => {
    if (!ref.current) return;
    const chart = echarts.init(ref.current, null, { renderer: "svg" });
    chart.setOption(buildOption() as any);
    return () => chart.dispose();
  }, []);
  return (
    <div
      ref={ref}
      style={{ position: "absolute", left: 0, top: 0, width: 1143, height: 947, background: "#fff" }}
    />
  );
}
